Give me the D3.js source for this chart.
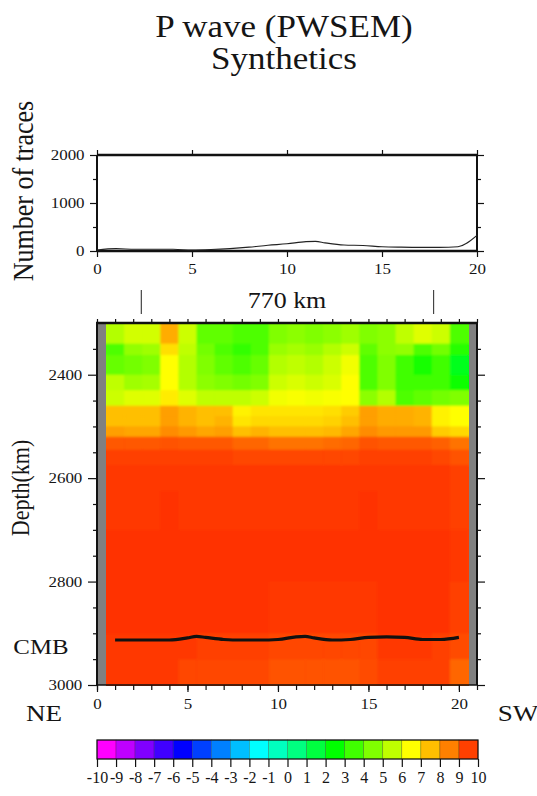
<!DOCTYPE html>
<html><head><meta charset="utf-8">
<script src="https://cdn.jsdelivr.net/npm/d3@7/dist/d3.min.js"></script>
<style>
body{margin:0;background:#fff}
text{font-family:"Liberation Serif","Times New Roman",serif;fill:#151515}
</style>
</head><body>
<svg id="c" width="537" height="796"></svg>
<script>
// ---------------- DATA ----------------
const titleLines = ["P wave (PWSEM)", "Synthetics"];
// top panel: number of traces per bin
const traceX =     [0, 1, 2, 3, 4, 5, 6, 7, 8, 9, 10, 11, 11.5, 12, 13, 14, 15, 16, 17, 18, 19, 20];
const traceCount = [20,50,35,35,35,20,30,50,80,120,150,195,200, 170,125,115,90, 80, 75, 75, 90, 325];
const traceTicks = [0, 1000, 2000];
const traceMinor = [500, 1500];
const distTicks = [0, 5, 10, 15, 20];

// heat map grid: column centres (bin) and depth edges (km)
const colCenters = [1,2,3,4,5,6,7,8,9,10,11,12,13,14,15,16,17,18,19,20];
const depthEdges = [2300,2340,2362,2400,2430,2460,2480,2500,2520,2545,2575,2625,2700,2800,2900,2950,3000];
// velocity perturbation (%) : one array per column, one value per depth row
const dV = [
 [4.8,3.2,3.6,5.0,5.2,7.0,7.0,7.5,8.6,9.0,9.1,9.1,9.2,9.2,9.1,9.1],
 [5.3,4.3,3.8,4.5,5.5,7.0,7.0,7.4,8.6,9.0,9.1,9.1,9.2,9.2,9.1,9.1],
 [5.3,4.5,4.0,4.6,5.5,7.0,7.0,7.4,8.6,9.0,9.1,9.1,9.2,9.2,9.1,9.1],
 [7.3,6.5,6.0,6.0,6.3,7.5,7.5,7.8,8.7,9.0,9.1,9.2,9.2,9.2,9.1,9.1],
 [5.2,5.0,4.8,4.8,5.5,7.2,7.2,7.6,8.6,9.0,9.1,9.1,9.2,9.2,9.1,8.9],
 [3.5,3.8,4.0,4.2,5.0,7.0,7.0,7.4,8.6,9.0,9.1,9.1,9.2,9.2,9.0,8.9],
 [3.5,3.2,3.5,4.0,5.0,7.0,7.2,7.5,8.6,9.0,9.1,9.1,9.2,9.2,9.0,8.9],
 [3.2,2.8,3.2,3.8,5.0,6.2,6.4,7.0,8.4,8.9,9.1,9.1,9.2,9.2,9.0,8.9],
 [3.2,3.2,3.6,4.0,5.2,6.4,6.6,7.2,8.4,8.9,9.1,9.1,9.2,9.2,9.0,8.9],
 [4.0,4.4,4.8,5.2,5.8,6.4,6.6,7.0,8.2,8.9,9.1,9.1,9.2,9.1,8.9,8.7],
 [4.2,4.6,5.0,5.4,5.9,6.4,6.6,7.0,8.2,8.9,9.1,9.1,9.2,9.1,8.9,8.7],
 [4.0,4.4,4.8,5.2,5.8,6.4,6.6,7.0,8.2,8.9,9.1,9.1,9.2,9.1,8.9,8.7],
 [4.2,4.8,5.2,5.4,5.9,6.5,6.7,7.1,8.3,8.9,9.1,9.1,9.2,9.1,8.9,8.7],
 [4.5,5.2,5.8,6.0,6.0,6.8,7.0,7.4,8.4,8.9,9.1,9.1,9.2,9.1,8.9,8.7],
 [4.0,3.5,3.2,3.2,4.2,7.5,7.5,7.8,8.7,9.0,9.1,9.2,9.2,9.1,8.9,8.8],
 [4.2,4.2,4.0,4.0,4.8,7.3,7.3,7.6,8.6,9.0,9.1,9.1,9.2,9.2,9.1,9.0],
 [5.0,4.3,3.0,3.0,3.2,7.3,7.3,7.6,8.6,9.0,9.1,9.1,9.2,9.2,9.1,9.0],
 [5.5,3.2,2.4,3.0,3.5,7.2,7.2,7.6,8.6,9.0,9.1,9.1,9.2,9.2,9.1,9.0],
 [5.2,3.8,3.0,3.0,3.8,6.2,6.2,6.8,8.5,8.9,9.1,9.1,9.2,9.2,9.0,9.0],
 [3.2,2.6,1.6,2.2,4.0,6.0,6.0,6.6,8.2,8.7,9.0,9.0,9.1,9.0,8.8,8.4]
];
// CMB topography
const cmbX =     [1,   2,   3,   4,   5,   5.5, 6,   7,   8,   9,   10,  11,  11.5,12,  13,  14,  15,  16,  17,  18,  19,  20];
const cmbDepth = [2913,2913,2913,2913,2909,2906,2908,2912,2913,2913,2912,2907,2906,2909,2913,2912,2908,2907,2908,2912,2912,2908];
const depthTicks = [2400, 2600, 2800, 3000];
const depthMinor = [2350,2450,2500,2550,2650,2700,2750,2850,2900,2950];
const scaleMarks = [2.45, 18.6];
const scaleLabel = "770 km";
// colour palette
const cptValues = [-10,-9,-8,-7,-6,-5,-4,-3,-2,-1,0,1,2,3,4,5,6,7,8,9,10];
const rainbowStops = [-10,-6,-2,2,6,10];
const rainbowColors = ["#ff00ff","#0000ff","#00ffff","#00ff00","#ffff00","#ff0000"];

// ---------------- DRAW ----------------
const svg = d3.select("#c");
const SX = 1.13;
const FONT = "Liberation Serif";
const plain = d => String(d);
function txt(x, y, s, size, anchor, rot) {
  return svg.append("text")
    .attr("transform", `translate(${x},${y})` + (rot ? ` rotate(${rot}) scale(1,${SX})` : ` scale(${SX},1)`))
    .attr("font-size", size).attr("text-anchor", anchor || "middle").text(s);
}
const color = d3.scaleLinear().domain(rainbowStops).range(rainbowColors).clamp(true);

const defs = svg.append("defs");
const f = defs.append("filter").attr("id", "soft").attr("x", 0).attr("y", 0).attr("width", 1).attr("height", 1);
f.append("feGaussianBlur").attr("stdDeviation", 1.3).attr("result", "b");
const ct = f.append("feComponentTransfer").attr("in", "b");
ct.append("feFuncA").attr("type", "table").attr("tableValues", "1 1");

// title
txt(284, 37, titleLines[0], 31, "middle");
txt(284, 69, titleLines[1], 31, "middle");

// ---- top panel ----
const L = 97, R = 477;
const xTop = d3.scaleLinear().domain([0, 20]).range([L, R]);
const yTop = d3.scaleLinear().domain([0, 2000]).range([251, 155]);
const gTop = svg.append("g");

function styleAxis(g, fs) {
  g.select(".domain").remove();
  g.selectAll("line").attr("stroke", "#111").attr("stroke-width", 1.2);
  g.selectAll("text").attr("font-size", fs).attr("font-family", FONT).attr("fill", "#151515")
   .attr("transform", `scale(${SX},1)`);
}
let a;
a = gTop.append("g").attr("transform", `translate(0,${yTop(0)})`).call(d3.axisBottom(xTop).tickValues(distTicks).tickSize(6).tickPadding(6).tickFormat(plain));
styleAxis(a, 15);
a = gTop.append("g").attr("transform", `translate(0,${yTop(2000)})`).call(d3.axisTop(xTop).tickValues(distTicks).tickSize(5).tickFormat(""));
styleAxis(a, 15);
a = gTop.append("g").attr("transform", `translate(${L},0)`).call(d3.axisLeft(yTop).tickValues(traceTicks).tickSize(7).tickPadding(4).tickFormat(plain));
styleAxis(a, 15);
a = gTop.append("g").attr("transform", `translate(${L},0)`).call(d3.axisLeft(yTop).tickValues(traceMinor).tickSize(4).tickFormat(""));
styleAxis(a, 15);
a = gTop.append("g").attr("transform", `translate(${R},0)`).call(d3.axisRight(yTop).tickValues(traceTicks).tickSize(7).tickFormat(""));
styleAxis(a, 15);
a = gTop.append("g").attr("transform", `translate(${R},0)`).call(d3.axisRight(yTop).tickValues(traceMinor).tickSize(4).tickFormat(""));
styleAxis(a, 15);
// frame
gTop.append("line").attr("x1", L).attr("x2", R).attr("y1", yTop(2000)).attr("y2", yTop(2000)).attr("stroke", "#111").attr("stroke-width", 2.6);
gTop.append("line").attr("x1", L).attr("x2", R).attr("y1", yTop(0)).attr("y2", yTop(0)).attr("stroke", "#111").attr("stroke-width", 2.6);
gTop.append("line").attr("x1", L).attr("x2", L).attr("y1", yTop(2000)).attr("y2", yTop(0)).attr("stroke", "#111").attr("stroke-width", 2);
gTop.append("line").attr("x1", R).attr("x2", R).attr("y1", yTop(2000)).attr("y2", yTop(0)).attr("stroke", "#111").attr("stroke-width", 2);
// trace count line
gTop.append("path").datum(traceX.map((x, i) => [x, traceCount[i]]))
  .attr("d", d3.line().x(d => xTop(d[0])).y(d => yTop(d[1])).curve(d3.curveMonotoneX))
  .attr("fill", "none").attr("stroke", "#222").attr("stroke-width", 1.1);
txt(33, 191, "Number of traces", 26, "middle", -90);

// ---- scale bar ----
const xH = d3.scaleLinear().domain([0, 21]).range([L, R]);
const yH = d3.scaleLinear().domain([2300, 3000]).range([323, 685]);
scaleMarks.forEach(m => svg.append("line").attr("x1", xH(m)).attr("x2", xH(m)).attr("y1", 290).attr("y2", 314).attr("stroke", "#444").attr("stroke-width", 1.2));
txt(287, 308, scaleLabel, 23, "middle");

// ---- heat map ----
const gH = svg.append("g");
gH.append("rect").attr("x", xH(0)).attr("y", yH(2300)).attr("width", xH(21) - xH(0)).attr("height", yH(3000) - yH(2300)).attr("fill", "#808080");
const cells = [];
colCenters.forEach((c, ci) => {
  for (let r = 0; r < depthEdges.length - 1; r++) cells.push({ c, d0: depthEdges[r], d1: depthEdges[r + 1], v: dV[ci][r] });
});
gH.append("g").attr("filter", "url(#soft)")
  .selectAll("rect").data(cells).join("rect")
  .attr("x", d => xH(d.c - 0.5)).attr("width", d => xH(d.c + 0.5) - xH(d.c - 0.5) + 0.4)
  .attr("y", d => yH(d.d0)).attr("height", d => yH(d.d1) - yH(d.d0) + 0.4)
  .attr("fill", d => color(d.v));
// CMB
gH.append("path").datum(cmbX.map((x, i) => [x, cmbDepth[i]]))
  .attr("d", d3.line().x(d => xH(d[0])).y(d => yH(d[1])).curve(d3.curveMonotoneX))
  .attr("fill", "none").attr("stroke", "#111").attr("stroke-width", 3.2);

// axes
a = gH.append("g").attr("transform", `translate(${L},0)`).call(d3.axisLeft(yH).tickValues(depthTicks).tickSize(9).tickPadding(4).tickFormat(plain));
styleAxis(a, 15);
a = gH.append("g").attr("transform", `translate(${L},0)`).call(d3.axisLeft(yH).tickValues(depthMinor).tickSize(4).tickFormat(""));
styleAxis(a, 15);
a = gH.append("g").attr("transform", `translate(${R},0)`).call(d3.axisRight(yH).tickValues(depthTicks).tickSize(8).tickFormat(""));
styleAxis(a, 15);
a = gH.append("g").attr("transform", `translate(${R},0)`).call(d3.axisRight(yH).tickValues(depthMinor).tickSize(4).tickFormat(""));
styleAxis(a, 15);
a = gH.append("g").attr("transform", `translate(0,${yH(3000)})`).call(d3.axisBottom(xH).tickValues(d3.range(0, 22)).tickSize(5).tickFormat(""));
styleAxis(a, 15);
a = gH.append("g").attr("transform", `translate(0,${yH(3000)})`).call(d3.axisBottom(xH).tickValues(distTicks).tickSize(7).tickPadding(6).tickFormat(plain));
styleAxis(a, 15);
a = gH.append("g").attr("transform", `translate(0,${yH(2300)})`).call(d3.axisTop(xH).tickValues(d3.range(0, 22)).tickSize(4).tickFormat(""));
styleAxis(a, 15);
gH.append("line").attr("x1", L - 1).attr("x2", R + 1).attr("y1", yH(2300)).attr("y2", yH(2300)).attr("stroke", "#111").attr("stroke-width", 2.6);
gH.append("line").attr("x1", L).attr("x2", R + 1).attr("y1", yH(3000)).attr("y2", yH(3000)).attr("stroke", "#111").attr("stroke-width", 1.5);
gH.append("line").attr("x1", L).attr("x2", L).attr("y1", yH(2300)).attr("y2", yH(3000)).attr("stroke", "#111").attr("stroke-width", 2);
gH.append("line").attr("x1", R).attr("x2", R).attr("y1", yH(2300)).attr("y2", yH(3000)).attr("stroke", "#111").attr("stroke-width", 2);

txt(29, 488, "Depth(km)", 22, "middle", -90);
txt(41, 654, "CMB", 22, "middle");
txt(44, 721, "NE", 24, "middle");
txt(518, 721, "SW", 24, "middle");

// ---- colour bar ----
const xC = d3.scaleLinear().domain([-10, 10]).range([L, 478]);
const gC = svg.append("g");
gC.selectAll("rect").data(cptValues.slice(0, -1)).join("rect")
  .attr("x", d => xC(d)).attr("width", xC(1) - xC(0)).attr("y", 740).attr("height", 19)
  .attr("fill", d => color(d)).attr("stroke", "rgba(0,0,0,0.35)").attr("stroke-width", 0.6);
gC.append("rect").attr("x", xC(-10)).attr("y", 740).attr("width", xC(10) - xC(-10)).attr("height", 19)
  .attr("fill", "none").attr("stroke", "#111").attr("stroke-width", 1.2);
a = gC.append("g").attr("transform", "translate(0,759)").call(d3.axisBottom(xC).tickValues(cptValues).tickSize(8).tickPadding(5).tickFormat(plain));
styleAxis(a, 16);
a.selectAll("text").attr("transform", "scale(1.0,1)");
</script>
</body></html>
